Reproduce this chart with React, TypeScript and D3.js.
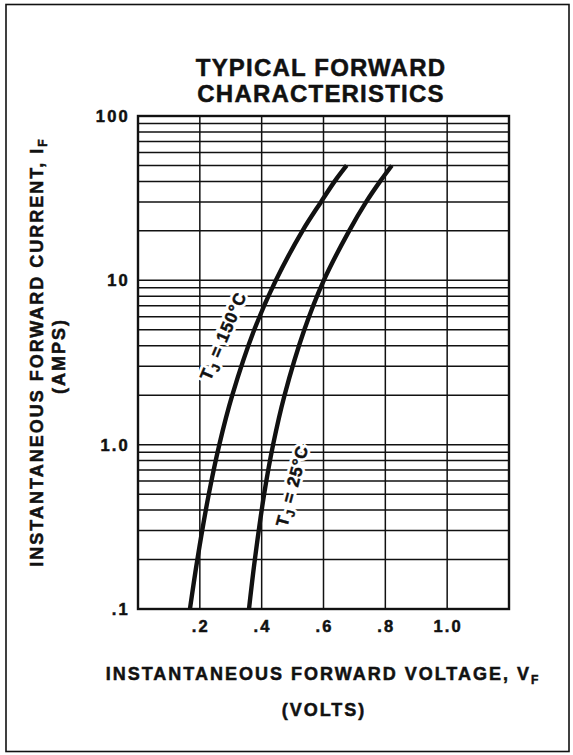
import React, { useEffect, useRef } from 'react';
import * as d3 from 'd3';

// forward voltage (V) vs forward current (A)
const tj150Volts = [0.168, 0.192, 0.229, 0.263, 0.305, 0.376, 0.446, 0.532, 0.592, 0.636, 0.675];
const tj150Amps = [0.1, 0.2, 0.5, 1, 2, 5, 10, 20, 30, 40, 50];
const tj25Volts = [0.359, 0.378, 0.408, 0.437, 0.474, 0.538, 0.601, 0.683, 0.738, 0.783, 0.821];
const tj25Amps = [0.1, 0.2, 0.5, 1, 2, 5, 10, 20, 30, 40, 50];

const xTickValues = [0.2, 0.4, 0.6, 0.8, 1.0];
const xTickLabels = ['.2', '.4', '.6', '.8', '1.0'];
const yTickValues = [0.1, 1, 10, 100];
const yTickLabels = ['.1', '1.0', '10', '100'];

const titleLines = ['TYPICAL FORWARD', 'CHARACTERISTICS'];

const W = 573;
const H = 755;
const FONT = '"Liberation Sans", Arial, Helvetica, sans-serif';
const INK = '#111';

export default function App() {
  const svgRef = useRef<SVGSVGElement>(null);

  useEffect(() => {
    if (!svgRef.current) return;
    const svg = d3.select(svgRef.current);
    svg.selectAll('*').remove();

    const plot = { left: 138, right: 509, top: 116, bottom: 609 };

    const xScale = d3.scaleLinear().domain([0, 1.2]).range([plot.left, plot.right]);
    const yScale = d3.scaleLog().domain([0.1, 100]).range([plot.bottom, plot.top]);

    // printed text is heavy, so thicken the glyphs a bit with a stroke
    const boldText = (sel: any, size: number, spacing: number) =>
      sel
        .style('font-family', FONT)
        .style('font-weight', 'bold')
        .style('font-size', `${size}px`)
        .style('letter-spacing', `${spacing}px`)
        .style('fill', INK)
        .style('stroke', INK)
        .style('stroke-width', '0.5px');

    svg.append('rect').attr('width', W).attr('height', H).attr('fill', '#fff');

    // outer frame
    svg
      .append('rect')
      .attr('x', 6)
      .attr('y', 4.5)
      .attr('width', 563)
      .attr('height', 747)
      .attr('fill', 'none')
      .attr('stroke', INK)
      .attr('stroke-width', 1.6);

    // title
    svg
      .append('g')
      .selectAll('text')
      .data(titleLines)
      .enter()
      .append('text')
      .attr('x', 321)
      .attr('y', (_, i) => 76 + i * 26)
      .attr('text-anchor', 'middle')
      .call(boldText, 24, 1.2)
      .text((d) => d);

    // grid
    const grid = svg.append('g').attr('stroke', INK).attr('stroke-width', 1.5);
    const minorY = yScale.ticks().filter((v) => v > 0.1 && v < 100);
    grid
      .selectAll('line.h')
      .data(minorY)
      .enter()
      .append('line')
      .attr('class', 'h')
      .attr('x1', plot.left)
      .attr('x2', plot.right)
      .attr('y1', (d) => yScale(d))
      .attr('y2', (d) => yScale(d));

    grid
      .selectAll('line.v')
      .data(d3.range(0.2, 1.19, 0.2))
      .enter()
      .append('line')
      .attr('class', 'v')
      .attr('x1', (d) => xScale(d))
      .attr('x2', (d) => xScale(d))
      .attr('y1', plot.top)
      .attr('y2', plot.bottom);

    svg
      .append('rect')
      .attr('x', plot.left)
      .attr('y', plot.top)
      .attr('width', plot.right - plot.left)
      .attr('height', plot.bottom - plot.top)
      .attr('fill', 'none')
      .attr('stroke', INK)
      .attr('stroke-width', 2.4);

    // tick labels
    svg
      .append('g')
      .selectAll('text')
      .data(yTickValues)
      .enter()
      .append('text')
      .attr('x', 130)
      .attr('y', (d) => yScale(d) + 6)
      .attr('text-anchor', 'end')
      .call(boldText, 16.5, 2.2)
      .text((_, i) => yTickLabels[i]);

    svg
      .append('g')
      .selectAll('text')
      .data(xTickValues)
      .enter()
      .append('text')
      .attr('x', (d) => xScale(d) + 1)
      .attr('y', 632)
      .attr('text-anchor', 'middle')
      .call(boldText, 16.5, 2.2)
      .text((_, i) => xTickLabels[i]);

    // curves
    const line = d3
      .line<[number, number]>()
      .x((d) => xScale(d[0]))
      .y((d) => yScale(d[1]))
      .curve(d3.curveCatmullRom.alpha(0.5));

    const curves = [
      tj150Volts.map((v, i) => [v, tj150Amps[i]] as [number, number]),
      tj25Volts.map((v, i) => [v, tj25Amps[i]] as [number, number])
    ];
    svg
      .append('g')
      .selectAll('path')
      .data(curves)
      .enter()
      .append('path')
      .attr('d', (d) => line(d))
      .attr('fill', 'none')
      .attr('stroke', INK)
      .attr('stroke-width', 4.4)
      .attr('stroke-linecap', 'butt');

    // curve labels
    const labels = [
      { temp: '150°C', x: 223, y: 336, angle: -67 },
      { temp: '25°C', x: 292, y: 486, angle: -75 }
    ];
    labels.forEach((l) => {
      svg
        .append('text')
        .attr('transform', `translate(${l.x},${l.y}) rotate(${l.angle})`)
        .attr('text-anchor', 'middle')
        .attr('dy', '0.35em')
        .style('font-family', FONT)
        .style('font-weight', 'bold')
        .style('font-size', '17px')
        .style('letter-spacing', '1px')
        .style('fill', '#fff')
        .style('stroke', '#fff')
        .style('stroke-width', '6px')
        .call((t: any) => {
          t.append('tspan').text('T');
          t.append('tspan').attr('dy', 4).style('font-size', '12px').text('J');
          t.append('tspan').attr('dy', -4).text(` = ${l.temp}`);
        });
      const t = svg
        .append('text')
        .attr('transform', `translate(${l.x},${l.y}) rotate(${l.angle})`)
        .attr('text-anchor', 'middle')
        .attr('dy', '0.35em')
        .call(boldText, 17, 1);
      t.append('tspan').text('T');
      t.append('tspan').attr('dy', 4).style('font-size', '12px').text('J');
      t.append('tspan').attr('dy', -4).text(` = ${l.temp}`);
    });

    // axis titles
    const xt = svg
      .append('text')
      .attr('x', 323)
      .attr('y', 680)
      .attr('text-anchor', 'middle')
      .call(boldText, 18, 2);
    xt.append('tspan').text('INSTANTANEOUS FORWARD VOLTAGE, V');
    xt.append('tspan').attr('dy', 4).style('font-size', '12px').text('F');

    svg
      .append('text')
      .attr('x', 324)
      .attr('y', 716)
      .attr('text-anchor', 'middle')
      .call(boldText, 18, 2)
      .text('(VOLTS)');

    const yt = svg
      .append('text')
      .attr('transform', `translate(43,352) rotate(-90)`)
      .attr('text-anchor', 'middle')
      .call(boldText, 18, 2);
    yt.append('tspan').text('INSTANTANEOUS FORWARD CURRENT, I');
    yt.append('tspan').attr('dy', 4).style('font-size', '12px').text('F');

    svg
      .append('text')
      .attr('transform', `translate(65,356) rotate(-90)`)
      .attr('text-anchor', 'middle')
      .call(boldText, 18, 2)
      .text('(AMPS)');
  }, []);

  return (
    <svg
      ref={svgRef}
      width={W}
      height={H}
      style={{ position: 'absolute', left: 0, top: 0, display: 'block' }}
    />
  );
}
